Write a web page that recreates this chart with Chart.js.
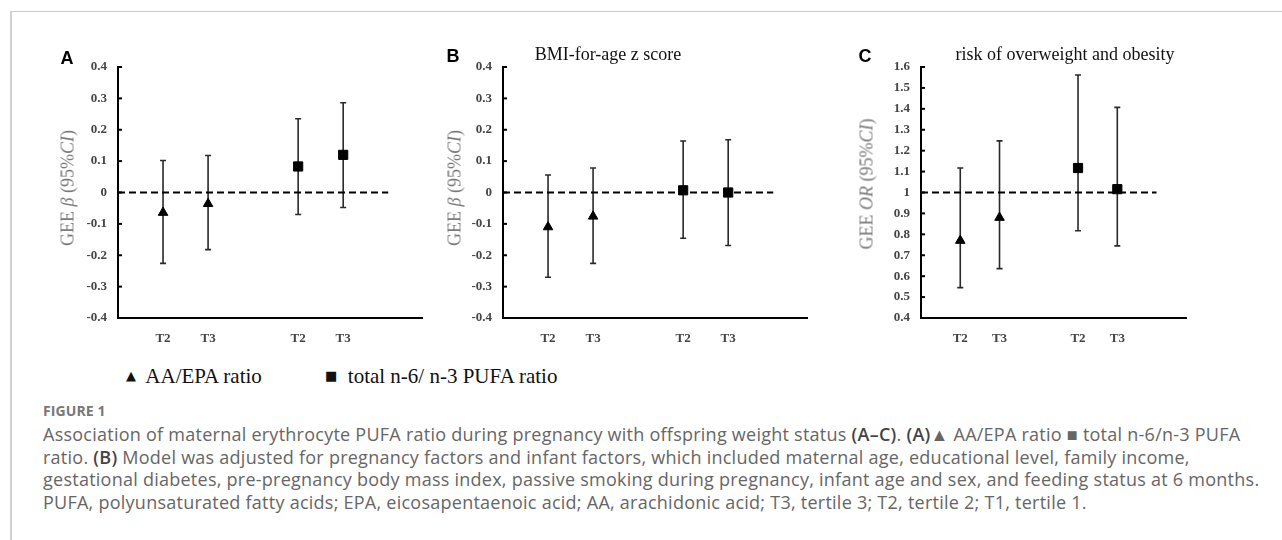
<!DOCTYPE html>
<html>
<head>
<meta charset="utf-8">
<script src="https://cdn.jsdelivr.net/npm/chart.js@4.4.0/dist/chart.umd.min.js"></script>
<style>
  body { margin: 0; background: #fff; width: 1282px; height: 540px; overflow: hidden; position: relative; }
  .frame { position: absolute; left: 10px; top: 11px; width: 1272px; height: 529px; border-top: 1px solid #c8c8c8; border-left: 2px solid #d0d0d0; }
  canvas { position: absolute; }
  .letter { position: absolute; font: bold 18px "Liberation Sans", Arial, sans-serif; color: #000; transform: translate(-50%, -50%); }
  .ptitle { position: absolute; font: 18px "Liberation Serif", "Times New Roman", serif; color: #111; transform: translate(-50%, -50%); white-space: nowrap; }
  .ytitle { position: absolute; font: 18px "Liberation Serif", "Times New Roman", serif; color: #777; white-space: nowrap; transform: translate(-50%, -50%) rotate(-90deg); }
  .legend { position: absolute; top: 364px; font: 21px "Liberation Serif", "Times New Roman", serif; color: #111; white-space: nowrap; }
  .legend span.m { font: 13px "DejaVu Sans", sans-serif; position: relative; top: -3px; }
  .caption { position: absolute; left: 43px; top: 401px; font-family: "Open Sans", sans-serif; color: #666; }
  .caption .fig { font-size: 14px; font-weight: bold; color: #777; letter-spacing: 0.1px; }
  .caption .line { font-size: 18px; line-height: 22.5px; letter-spacing: 0.25px; white-space: nowrap; }
  .caption b { color: #444; font-weight: 600; }
</style>
</head>
<body>
<div class="frame"></div>

<canvas id="chartA" width="440" height="330" style="left:0px; top:30px;"></canvas>
<canvas id="chartB" width="380" height="330" style="left:440px; top:30px;"></canvas>
<canvas id="chartC" width="462" height="330" style="left:820px; top:30px;"></canvas>

<div class="letter" style="left:67px; top:58px;">A</div>
<div class="letter" style="left:453px; top:56px;">B</div>
<div class="letter" style="left:865px; top:56px;">C</div>

<div class="ptitle" style="left:608px; top:54px;">BMI-for-age z score</div>
<div class="ptitle" style="left:1065px; top:54px;">risk of overweight and obesity</div>

<div class="ytitle" style="left:68px; top:188px;">GEE <i>β</i> (95%<i>CI</i>)</div>
<div class="ytitle" style="left:455px; top:188px;">GEE <i>β</i> (95%<i>CI</i>)</div>
<div class="ytitle" style="left:867px; top:184px;">GEE <i>OR</i> (95%<i>CI</i>)</div>

<div class="legend" style="left:126px;"><span class="m">▲</span>&nbsp; AA/EPA ratio</div>
<div class="legend" style="left:325px;"><span class="m">■</span>&nbsp; total n-6/ n-3 PUFA ratio</div>

<div class="caption">
  <div class="fig">FIGURE 1</div>
  <div class="line" style="margin-top:3px;">Association of maternal erythrocyte PUFA ratio during pregnancy with offspring weight status <b>(A–C)</b>. <b>(A)</b>▲ AA/EPA ratio ■ total n-6/n-3 PUFA</div>
  <div class="line">ratio. <b>(B)</b> Model was adjusted for pregnancy factors and infant factors, which included maternal age, educational level, family income,</div>
  <div class="line">gestational diabetes, pre-pregnancy body mass index, passive smoking during pregnancy, infant age and sex, and feeding status at 6 months.</div>
  <div class="line">PUFA, polyunsaturated fatty acids; EPA, eicosapentaenoic acid; AA, arachidonic acid; T3, tertile 3; T2, tertile 2; T1, tertile 1.</div>
</div>

<script>
// category slots on the x axis and their labels
const triSlots = [1, 2];
const sqSlots = [4, 5];
const tickLabels = ['T2', 'T3', 'T2', 'T3'];

// A: GEE beta, AA/EPA ratio (triangles) and total n-6/n-3 ratio (squares)
const aTri = [-0.064, -0.036];
const aTriLo = [-0.226, -0.182];
const aTriHi = [0.102, 0.118];
const aSq = [0.083, 0.120];
const aSqLo = [-0.070, -0.048];
const aSqHi = [0.235, 0.286];

// B: BMI-for-age z score
const bTri = [-0.110, -0.076];
const bTriLo = [-0.270, -0.226];
const bTriHi = [0.056, 0.078];
const bSq = [0.007, 0.000];
const bSqLo = [-0.146, -0.169];
const bSqHi = [0.164, 0.168];

// C: risk of overweight and obesity, OR
const cTri = [0.770, 0.880];
const cTriLo = [0.545, 0.636];
const cTriHi = [1.117, 1.247];
const cSq = [1.117, 1.016];
const cSqLo = [0.817, 0.745];
const cSqHi = [1.562, 1.407];

// draws the CI whiskers under the markers
const errorBars = {
  id: 'errorBars',
  beforeDatasetsDraw(chart) {
    const ctx = chart.ctx, xs = chart.scales.x, ys = chart.scales.y;
    ctx.save();
    ctx.strokeStyle = '#2a2a2a';
    ctx.lineWidth = 1.6;
    chart.data.datasets.forEach(ds => {
      if (!ds.errLo) return;
      ds.data.forEach((p, i) => {
        const x = xs.getPixelForValue(p.x);
        const y1 = ys.getPixelForValue(ds.errLo[i]);
        const y2 = ys.getPixelForValue(ds.errHi[i]);
        ctx.beginPath();
        ctx.moveTo(x, y1); ctx.lineTo(x, y2);
        ctx.moveTo(x - 3, y1); ctx.lineTo(x + 3, y1);
        ctx.moveTo(x - 3, y2); ctx.lineTo(x + 3, y2);
        ctx.stroke();
      });
    });
    ctx.restore();
  },
  // small tick marks pointing into the plot
  afterDraw(chart) {
    const ctx = chart.ctx, ys = chart.scales.y;
    ctx.save();
    ctx.strokeStyle = '#000';
    ctx.lineWidth = 2;
    ys.ticks.forEach(t => {
      const y = ys.getPixelForValue(t.value);
      ctx.beginPath();
      ctx.moveTo(ys.right, y); ctx.lineTo(ys.right + 4, y);
      ctx.stroke();
    });
    ctx.restore();
  }
};

const tickFont = { family: '"Liberation Serif", "Times New Roman", serif', size: 13, weight: 'bold' };

function makePanel(id, yAxisWidth, rightPad, yMin, yMax, refY, tri, triLo, triHi, sq, sqLo, sqHi) {
  new Chart(document.getElementById(id), {
    type: 'scatter',
    data: {
      datasets: [{
        label: 'AA/EPA ratio',
        data: triSlots.map((x, i) => ({ x: x, y: tri[i] })),
        errLo: triLo, errHi: triHi,
        pointStyle: 'triangle', pointRadius: 5.5,
        backgroundColor: '#000', borderColor: '#000', borderWidth: 1,
        order: 0, clip: false
      }, {
        label: 'total n-6/ n-3 PUFA ratio',
        data: sqSlots.map((x, i) => ({ x: x, y: sq[i] })),
        errLo: sqLo, errHi: sqHi,
        pointStyle: 'rect', pointRadius: 6.5,
        backgroundColor: '#000', borderColor: '#000', borderWidth: 1,
        order: 0, clip: false
      }, {
        label: 'reference',
        data: [{ x: 0, y: refY }, { x: 6, y: refY }],
        showLine: true, borderColor: '#000', borderWidth: 2, borderDash: [7, 4],
        pointRadius: 0, order: 1
      }]
    },
    options: {
      responsive: false,
      animation: false,
      events: [],
      layout: { padding: { left: 0, right: rightPad, top: 37, bottom: 0 } },
      plugins: { legend: { display: false }, tooltip: { enabled: false } },
      scales: {
        x: {
          type: 'linear', min: 0, max: 6.75,
          grid: { display: false, drawTicks: false },
          border: { display: true, color: '#000', width: 2 },
          afterBuildTicks: s => { s.ticks = triSlots.concat(sqSlots).map(v => ({ value: v })); },
          ticks: {
            autoSkip: false, maxRotation: 0, padding: 13,
            color: '#444', font: tickFont,
            callback: (v, i) => tickLabels[i]
          },
          afterFit: s => { s.height = 42; }
        },
        y: {
          min: yMin, max: yMax,
          grid: { display: false, drawTicks: false },
          border: { display: true, color: '#000', width: 2 },
          ticks: {
            stepSize: 0.1, padding: 11, color: '#444', font: tickFont,
            callback: v => String(Math.round(v * 10) / 10)
          },
          afterFit: s => { s.width = yAxisWidth; }
        }
      }
    },
    plugins: [errorBars]
  });
}

makePanel('chartA', 118, 18, -0.4, 0.4, 0, aTri, aTriLo, aTriHi, aSq, aSqLo, aSqHi);
makePanel('chartB', 63, 13, -0.4, 0.4, 0, bTri, bTriLo, bTriHi, bSq, bSqLo, bSqHi);
makePanel('chartC', 101, 96, 0.4, 1.6, 1, cTri, cTriLo, cTriHi, cSq, cSqLo, cSqHi);
</script>
</body>
</html>
